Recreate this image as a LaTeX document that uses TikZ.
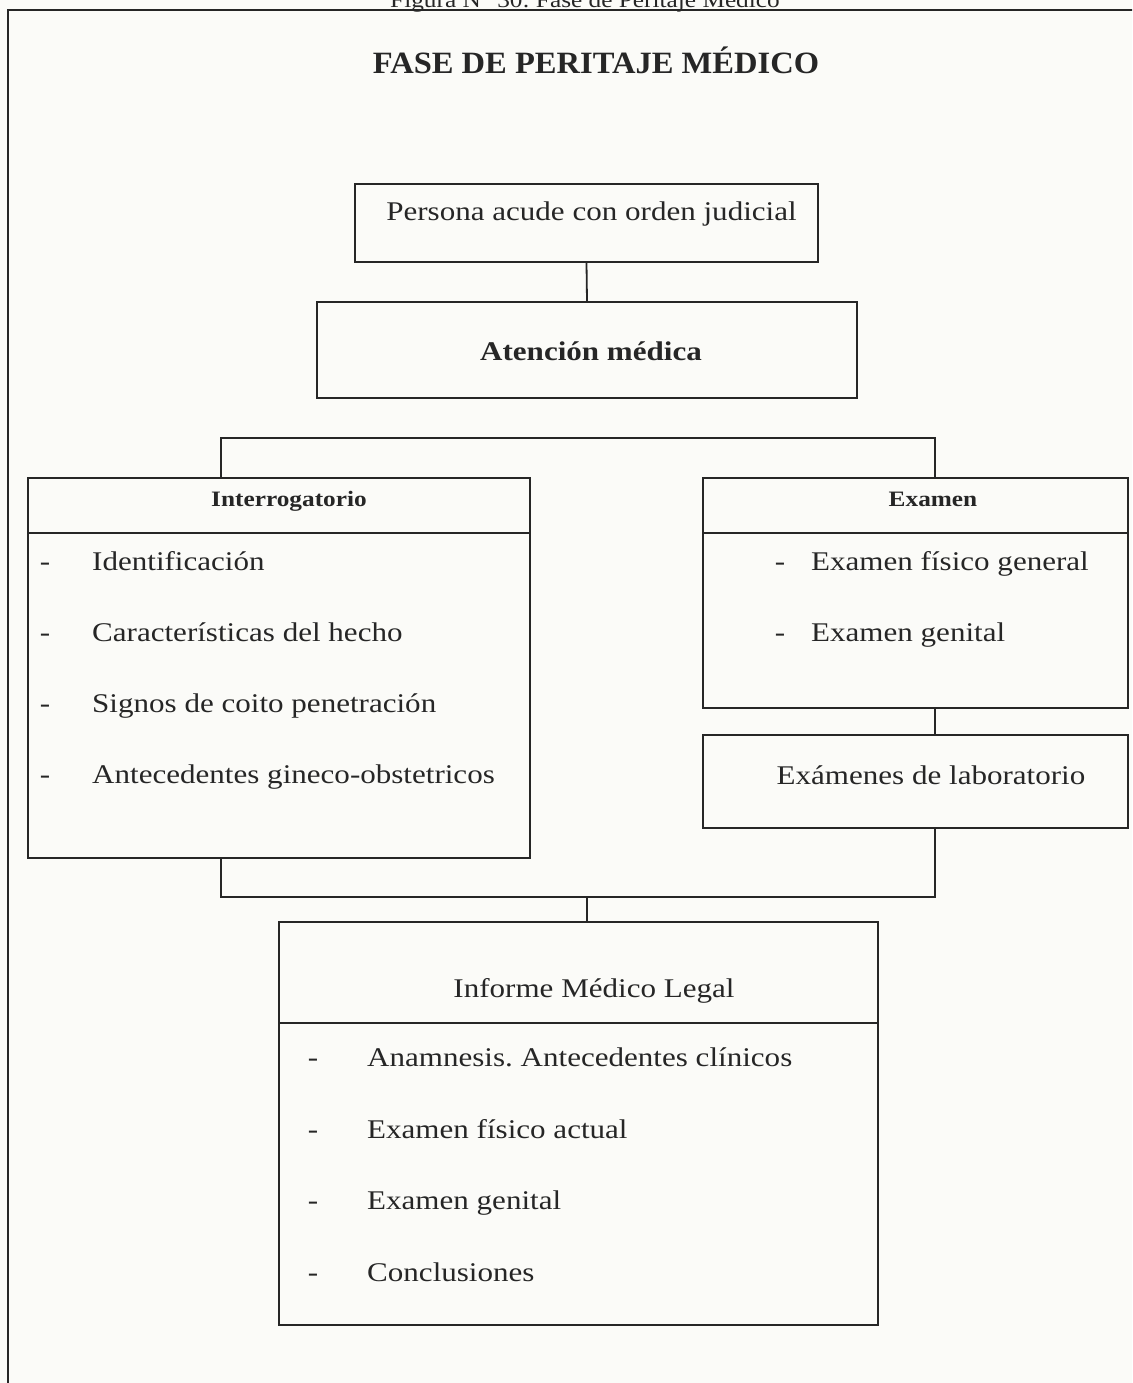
\documentclass[tikz,border=0pt]{standalone}
\usepackage{fontspec}
\setmainfont{Liberation Serif}[FakeStretch=1.15]
\newfontfamily\titulofont{Liberation Serif}[FakeStretch=1.05]
\usetikzlibrary{positioning}
\frenchspacing
\definecolor{papel}{RGB}{251,251,248}
\definecolor{tinta}{RGB}{38,38,38}
\tikzset{
  caja/.style={draw=tinta, line width=1.8pt, inner sep=0pt, text=tinta,
    font=\fontsize{27}{31}\selectfont},
  linea/.style={draw=tinta, line width=1.8pt},
  marco/.style={draw=tinta, line width=1.5pt},
  lista/.style={inner sep=0pt, anchor=base west, text=tinta,
    font=\fontsize{27}{31}\selectfont},
  guion/.style={inner sep=0pt, anchor=base, text=tinta,
    font=\fontsize{27}{31}\selectfont},
  cabecera/.style={inner sep=0pt, anchor=base, text=tinta,
    font=\bfseries\fontsize{22}{25}\selectfont},
}
\begin{document}
\begin{tikzpicture}[x=1pt, y=-1pt]

  \newcommand\BarSup{438}
  \newcommand\BarInf{897}
  \newcommand\ColIzq{221}
  \newcommand\ColDer{935}
  \newcommand\ColCen{587}

  \path[use as bounding box, fill=papel] (0,0) rectangle (1132,1383);
  \clip (0,0) rectangle (1132,1383);

  % marco de la hoja
  \draw[marco] (1140,10) -- (8,10) -- (8,1390);
  \node[inner sep=0pt, anchor=base, text=tinta, font=\fontsize{22}{25}\selectfont]
    (pie) at (585,8) {Figura N° 30: Fase de Peritaje Médico};

  \node[inner sep=0pt, anchor=base, text=tinta, font=\titulofont\bfseries\fontsize{31}{35}\selectfont]
    (titulo) at (596,74) {FASE DE PERITAJE MÉDICO};

  % cajas
  \node[caja, minimum width=463, minimum height=78, text height=18pt, text depth=24pt]
    (persona) at (586.5,223) {\hspace*{10pt}Persona acude con orden judicial};
  \node[caja, minimum width=540, minimum height=96, text height=20pt, text depth=0pt,
    font=\bfseries\fontsize{27}{31}\selectfont]
    (atencion) at (587,350) {\hspace*{8pt}Atención médica};

  \node[caja, minimum width=502, minimum height=380] (interrog) at (279,668) {};
  \node[caja, minimum width=425, minimum height=230] (examen) at (915.5,593) {};
  \node[caja, minimum width=425, minimum height=93, text height=18pt, text depth=13pt]
    (lab) at (915.5,781.5) {\hspace*{31pt}Exámenes de laboratorio};
  \node[caja, minimum width=599, minimum height=403] (informe) at (578.5,1123.5) {};

  % divisiones de cabecera
  \draw[linea] (interrog.west |- 0,533) -- (interrog.east |- 0,533);
  \draw[linea] (examen.west |- 0,533) -- (examen.east |- 0,533);
  \draw[linea] (informe.west |- 0,1023) -- (informe.east |- 0,1023);

  \node[cabecera] (interrog-cab) at (289,506) {Interrogatorio};
  \node[cabecera] (examen-cab) at (933,506) {Examen};
  \node[guion] (informe-cab) at (594,997) {Informe Médico Legal};

  % listas
  \foreach \t [count=\i] in {Identificación, Características del hecho,
      Signos de coito penetración, Antecedentes gineco-obstetricos}{
    \node[guion] (int-g\i) at (45,{499+71*\i}) {-};
    \node[lista] (int-\i) at (92,{499+71*\i}) {\t};
  }
  \foreach \t [count=\i] in {Examen físico general, Examen genital}{
    \node[guion] (exa-g\i) at (780,{499+71*\i}) {-};
    \node[lista] (exa-\i) at (811,{499+71*\i}) {\t};
  }
  \foreach \t [count=\i] in {Anamnesis. Antecedentes clínicos, Examen físico actual,
      Examen genital, Conclusiones}{
    \node[guion] (inf-g\i) at (313,{995+71.5*\i}) {-};
    \node[lista] (inf-\i) at (367,{995+71.5*\i}) {\t};
  }

  % conectores
  \coordinate (sup-izq) at (\ColIzq,\BarSup);
  \coordinate (sup-der) at (\ColDer,\BarSup);
  \coordinate (inf-izq) at (\ColIzq,\BarInf);
  \coordinate (inf-der) at (\ColDer,\BarInf);
  \coordinate (inf-cen) at (\ColCen,\BarInf);

  \draw[linea] (persona.south) -- (atencion.north);
  \draw[linea] (interrog.north -| sup-izq) -- (sup-izq) -- (sup-der)
    -- (examen.north -| sup-der);
  \draw[linea] (examen.south -| sup-der) -- (lab.north -| sup-der);
  \draw[linea] (interrog.south -| inf-izq) -- (inf-izq) -- (inf-der)
    -- (lab.south -| inf-der);
  \draw[linea] (inf-cen) -- (informe.north -| inf-cen);

\end{tikzpicture}
\end{document}
